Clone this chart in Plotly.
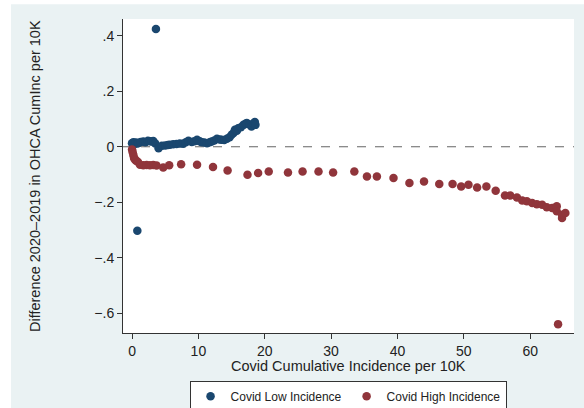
import plotly.graph_objects as go

# Covid Low Incidence (blue)
low_x = [0.0, 0.2, 0.4, 0.6, 0.8, 1.0, 1.3, 1.7, 2.0, 2.4, 2.7, 3.0, 3.2, 3.5, 4.0, 4.5, 5.0, 5.4, 5.7,
         6.2, 6.7, 7.2, 7.7, 8.1, 8.5, 9.0, 9.4, 9.8, 10.2, 10.5, 10.9, 11.3, 11.7, 12.0, 12.4, 12.8,
         13.2, 13.5, 13.9, 14.3, 14.7, 15.0, 15.3, 15.5, 15.8, 16.0, 16.4, 16.8, 17.1, 17.3, 17.7,
         18.0, 18.3, 18.5, 18.6, 3.6, 0.8]
low_y = [0.013, 0.016, 0.010, 0.015, 0.012, 0.014, 0.017, 0.019, 0.016, 0.022, 0.020, 0.019, 0.021,
         0.012, -0.005, 0.004, 0.005, 0.006, 0.007, 0.009, 0.010, 0.012, 0.011, 0.016, 0.022, 0.017,
         0.020, 0.025, 0.020, 0.016, 0.015, 0.013, 0.016, 0.019, 0.023, 0.029, 0.026, 0.025, 0.024,
         0.029, 0.034, 0.043, 0.050, 0.061, 0.058, 0.067, 0.070, 0.079, 0.083, 0.086, 0.080, 0.073,
         0.084, 0.089, 0.079, 0.425, -0.303]

# Covid High Incidence (red)
high_x = [0.0, 0.1, 0.2, 0.3, 0.4, 0.6, 0.9, 1.2, 1.7, 2.2, 2.7, 3.2, 3.7, 4.7, 5.6, 7.4, 9.8,
          12.2, 14.4, 17.4, 19.0, 20.6, 23.5, 25.7, 28.1, 30.3, 33.5, 35.4, 36.9, 39.4, 41.8,
          44.0, 46.3, 48.3, 49.6, 50.7, 52.0, 53.4, 54.8, 56.2, 57.0, 58.0, 58.8, 59.5, 60.3,
          61.0, 61.8, 62.5, 63.3, 64.0, 64.0, 64.8, 64.8, 65.3, 64.2]
high_y = [-0.010, -0.020, -0.030, -0.040, -0.045, -0.050, -0.055, -0.065, -0.067, -0.066, -0.067,
          -0.066, -0.068, -0.075, -0.067, -0.063, -0.065, -0.073, -0.086, -0.101, -0.095, -0.089,
          -0.093, -0.089, -0.089, -0.093, -0.089, -0.107, -0.107, -0.113, -0.131, -0.125, -0.134,
          -0.134, -0.143, -0.137, -0.147, -0.143, -0.159, -0.176, -0.176, -0.183, -0.194, -0.197,
          -0.203, -0.207, -0.209, -0.218, -0.221, -0.215, -0.233, -0.257, -0.245, -0.239, -0.640]

x_ticks = [0, 10, 20, 30, 40, 50, 60]
y_ticks = [-0.6, -0.4, -0.2, 0, 0.2, 0.4]
y_tick_text = ["\u2212.6", "\u2212.4", "\u2212.2", "0", ".2", ".4"]

BLUE = "#1a476f"
RED = "#90353b"
BG = "#eaf2f3"
FONT = "Liberation Sans, Arial, sans-serif"

fig = go.Figure()
fig.add_trace(go.Scatter(x=low_x, y=low_y, mode="markers", name="Covid Low Incidence",
                         marker=dict(color=BLUE, size=8.5, line=dict(width=0))))
fig.add_trace(go.Scatter(x=high_x, y=high_y, mode="markers", name="Covid High Incidence",
                         marker=dict(color=RED, size=8.5, line=dict(width=0))))

fig.add_hline(y=0, line=dict(color="#666666", width=1.2, dash="dash"), layer="below")

# white border strips of the original image
fig.add_shape(type="rect", xref="paper", yref="paper", x0=-0.3, x1=1.1, y0=1.047, y1=1.1,
              fillcolor="white", line=dict(width=0), layer="below")
fig.add_shape(type="rect", xref="paper", yref="paper", x0=-0.3, x1=-0.2483, y0=-0.3, y1=1.1,
              fillcolor="white", line=dict(width=0), layer="below")

fig.add_annotation(text="Difference 2020\u20132019 in OHCA CumInc per 10K",
                   xref="paper", yref="paper", x=-0.195, y=0.5, xanchor="center", yanchor="middle",
                   textangle=-90, showarrow=False, font=dict(size=14.5, color="#222222"))
fig.add_annotation(text="Covid Cumulative Incidence per 10K",
                   xref="paper", yref="paper", x=0.5, y=-0.104, xanchor="center", yanchor="middle",
                   showarrow=False, font=dict(size=14.5, color="#222222"))

fig.update_layout(
    width=584, height=408,
    margin=dict(l=123, r=10, t=19, b=75, autoexpand=False),
    paper_bgcolor=BG, plot_bgcolor="white",
    font=dict(family=FONT, size=14, color="#222222"),
    showlegend=True,
    legend=dict(orientation="h", x=0.499, xanchor="center", y=-0.152, yanchor="top",
                bordercolor="#333333", borderwidth=1, bgcolor="white",
                font=dict(size=12, color="#222222"), itemwidth=30,
                tracegroupgap=0),
    xaxis=dict(range=[-1.36, 66.6], tickvals=x_ticks, showgrid=False, zeroline=False,
               showline=True, linecolor="#333333", linewidth=1, ticks="outside", ticklen=5,
               tickcolor="#333333", automargin=False, tickfont=dict(size=14)),
    yaxis=dict(range=[-0.672, 0.461], tickvals=y_ticks, ticktext=y_tick_text, showgrid=False,
               zeroline=False, showline=True, linecolor="#333333", linewidth=1, ticks="outside",
               ticklen=5, tickcolor="#333333", automargin=False, tickfont=dict(size=14)),
)

fig.write_html("out.html", config={"displayModeBar": False},
               post_script="document.body.style.margin='0';document.body.style.padding='0';")
